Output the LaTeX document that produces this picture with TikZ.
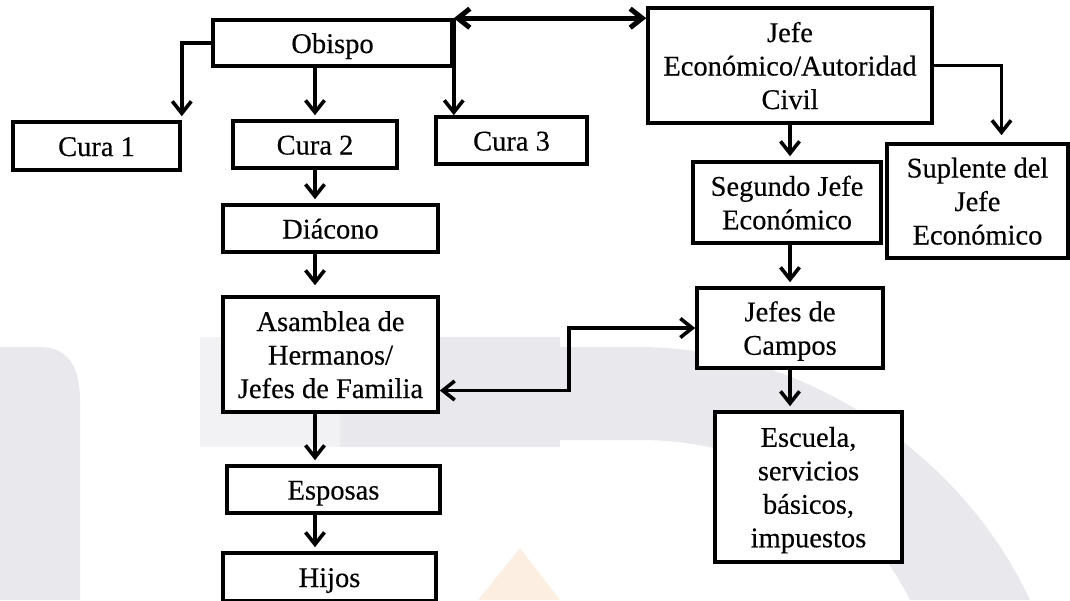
\documentclass[tikz,border=0pt]{standalone}
\usepackage{fontspec}
\setmainfont{Liberation Serif}[FakeBold=0.35]
\usetikzlibrary{arrows.meta}

\definecolor{wmgray}{HTML}{E9E9ED}
\definecolor{wmlight}{HTML}{F2F2F4}
\definecolor{wmorange}{HTML}{FDEEE2}

\newcommand{\tst}{\rule{0pt}{28pt}}
\newcommand{\bst}{\rule[-8pt]{0pt}{8pt}}

\begin{document}
\begin{tikzpicture}[x=1pt, y=-1pt,
	box/.style={draw, fill=white, line width=3.6pt, inner sep=0pt, align=center, font=\fontsize{28.5}{33.5}\selectfont},
	arr/.style={line width=3.6pt, -{Straight Barb[length=12pt,width=19pt]}, shorten >=4pt},
	dbl/.style={line width=3.6pt, {Straight Barb[length=12pt,width=19pt]}-{Straight Barb[length=12pt,width=19pt]}}]

	\useasboundingbox (0,0) rectangle (1070,600);

	\fill[wmlight] (200,337) rectangle (560,447);
	\fill[wmgray] (0,347) -- (40,347) .. controls (70,347) and (80,370) .. (80,400) -- (80,600) -- (0,600) -- cycle;
	\fill[wmgray] (340,337) rectangle (560,447);
	\fill[wmgray] (560,347) -- (640,347) .. controls (800,347) and (960,450) .. (1030,600) -- (910,600) .. controls (860,500) and (760,440) .. (640,440) -- (560,440) -- cycle;
	\fill[wmorange] (478,600) -- (520,548) -- (560,600) -- cycle;

	\node[box, minimum width=239pt, minimum height=46pt] (obispo) at (332.5,43) {\tst Obispo\bst};
	\node[box, minimum width=167pt, minimum height=48pt] (cura1) at (96.5,146) {\tst Cura 1\bst};
	\node[box, minimum width=164pt, minimum height=47pt] (cura2) at (315,144.5) {\tst Cura 2\bst};
	\node[box, minimum width=151pt, minimum height=47pt] (cura3) at (511.5,140.5) {\tst Cura 3\bst};
	\node[box, minimum width=215pt, minimum height=47pt] (diacono) at (330.5,228.5) {\tst Diácono\bst};
	\node[box, minimum width=215pt, minimum height=115pt] (asamblea) at (330.5,354.5) {\tst Asamblea de\\Hermanos/\\Jefes de Familia\bst};
	\node[box, minimum width=213pt, minimum height=47pt] (esposas) at (333.5,489.5) {\tst Esposas\bst};
	\node[box, minimum width=213pt, minimum height=48pt] (hijos) at (329.5,577) {\tst Hijos\bst};

	\node[box, minimum width=284pt, minimum height=115pt] (jefe) at (790,65.5) {\tst Jefe\\Económico/Autoridad\\Civil\bst};
	\node[box, minimum width=188pt, minimum height=81pt] (segundo) at (787,202.5) {\tst Segundo Jefe\\Económico\bst};
	\node[box, minimum width=181pt, minimum height=114pt] (suplente) at (977.5,201) {\tst Suplente del\\Jefe\\Económico\bst};
	\node[box, minimum width=186pt, minimum height=80pt] (campos) at (790,328) {\tst Jefes de\\Campos\bst};
	\node[box, minimum width=187pt, minimum height=150pt] (escuela) at (808.5,487) {\tst Escuela,\\servicios\\básicos,\\impuestos\bst};

	\draw[arr] (obispo.west) -| (cura1.north east);
	\draw[arr] (obispo.south -| cura2.north) -- (cura2.north);
	\draw[arr, shorten >=0pt] (obispo.north east) -- (obispo.north east |- cura3.north);
	\draw[dbl, line width=5pt] (obispo.north east) -- (obispo.north east -| jefe.west);

	\draw[arr] (cura2.south) -- (cura2.south |- diacono.north);
	\draw[arr, shorten >=10pt] (cura2.south |- diacono.south) -- (cura2.south |- asamblea.north);
	\draw[arr] (cura2.south |- asamblea.south) -- (cura2.south |- esposas.north);
	\draw[arr] (cura2.south |- esposas.south) -- (cura2.south |- hijos.north);

	\draw[arr] (jefe.south) -- (jefe.south |- segundo.north);
	\draw[arr, shorten >=7pt] (jefe.east) -| ([xshift=24pt]suplente.north);
	\draw[arr] (campos.north |- segundo.south) -- (campos.north);
	\draw[arr] (campos.south) -- (campos.south |- escuela.north);
	\draw[dbl] ([yshift=-36pt]asamblea.east) -- ++(129pt,0pt) |- (campos.west);
\end{tikzpicture}
\end{document}
